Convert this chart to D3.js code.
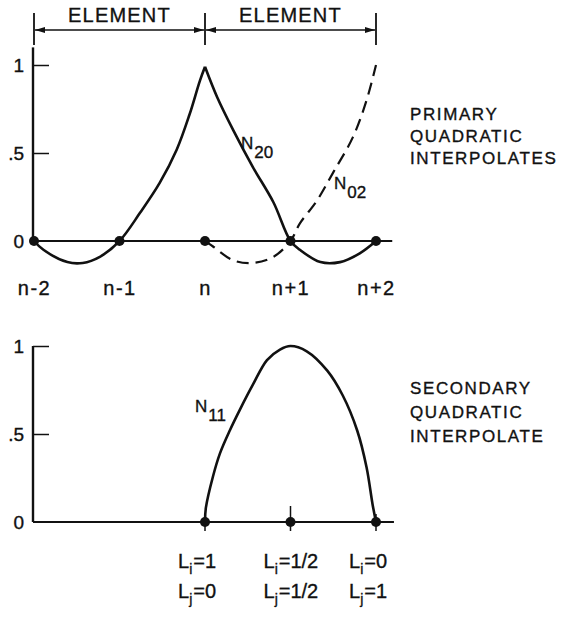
<!DOCTYPE html>
<html>
<head>
<meta charset="utf-8">
<script src="https://cdn.jsdelivr.net/npm/d3@7"></script>
<style>
  body { margin: 0; background: #fff; }
  svg { display: block; }
  text { font-family: "Liberation Sans", Arial, sans-serif; fill: #111; stroke: #111; stroke-width: 0.35px; }
</style>
</head>
<body>
<div class="graph"></div>
<script>
// node positions, n = 0
var nodePos = [-2, -1, 0, 1, 2];
var nodeLabels = ["n-2", "n-1", "n", "n+1", "n+2"];
var yTicks = [0, 0.5, 1];
var yTickLabels = ["0", ".5", "1"];

// element boundaries for the header arrows
var elementEdges = [-2, 0, 2];
var elementName = "ELEMENT";

// curves as [node position, value]
var n20Left = [[-2, 0], [-1.89, -0.05], [-1.61, -0.12], [-1.43, -0.125], [-1.23, -0.09], [-1, 0],
  [-0.76, 0.16], [-0.53, 0.33], [-0.33, 0.52], [-0.18, 0.72], [-0.06, 0.91], [0, 0.99]];
var n20Right = [[0, 0.99], [0.14, 0.82], [0.33, 0.63], [0.56, 0.42], [0.80, 0.22], [1, 0],
  [1.11, -0.05], [1.35, -0.12], [1.58, -0.12], [1.81, -0.07], [2, 0]];
var n02 = [[0, 0], [0.09, -0.03], [0.33, -0.11], [0.56, -0.125], [0.80, -0.09], [1, 0],
  [1.11, 0.10], [1.31, 0.23], [1.5, 0.39], [1.73, 0.59], [1.89, 0.80], [2, 1]];
var n11 = [[0, 0], [0.01, 0.08], [0.094, 0.26], [0.175, 0.39], [0.29, 0.52], [0.41, 0.64],
  [0.56, 0.78], [0.725, 0.92], [0.877, 0.98], [1, 1], [1.19, 0.97], [1.43, 0.86],
  [1.61, 0.72], [1.78, 0.52], [1.89, 0.31], [1.96, 0.1], [2, 0]];

// secondary nodes and their area coordinates
var secPos = [0, 1, 2];
var liLabels = ["1", "1/2", "0"];
var ljLabels = ["0", "1/2", "1"];

var topTitle = ["PRIMARY", "QUADRATIC", "INTERPOLATES"];
var botTitle = ["SECONDARY", "QUADRATIC", "INTERPOLATE"];

var width = 564, height = 620;

var svg = d3.select("div.graph").append("svg")
    .attr("width", width)
    .attr("height", height);

svg.append("defs").append("marker")
    .attr("id", "arrow")
    .attr("viewBox", "0 0 10 6")
    .attr("refX", 10).attr("refY", 3)
    .attr("markerWidth", 10).attr("markerHeight", 6)
    .attr("markerUnits", "userSpaceOnUse")
    .attr("orient", "auto-start-reverse")
  .append("path")
    .attr("d", "M0,0L10,3L0,6Z")
    .attr("fill", "#111");

var x = d3.scaleLinear().domain([-2, 2]).range([34, 376]);
var yTop = d3.scaleLinear().domain([0, 1]).range([241, 65]);
var yBot = d3.scaleLinear().domain([0, 1]).range([522, 346]);

// header: ELEMENT | ELEMENT
var head = svg.append("g");
head.selectAll("line.edge")
  .data(elementEdges)
  .enter().append("line")
    .attr("x1", d => x(d)).attr("x2", d => x(d))
    .attr("y1", 13).attr("y2", 45)
    .attr("stroke", "#111").attr("stroke-width", 1.8);

d3.pairs(elementEdges).forEach(function(p) {
  head.append("line")
      .attr("x1", x(p[0]) + 1).attr("x2", x(p[1]) - 1)
      .attr("y1", 30).attr("y2", 30)
      .attr("stroke", "#111").attr("stroke-width", 1.5)
      .attr("marker-start", "url(#arrow)")
      .attr("marker-end", "url(#arrow)");
  head.append("text")
      .attr("x", (x(p[0]) + x(p[1])) / 2)
      .attr("y", 22)
      .attr("text-anchor", "middle")
      .style("font-size", "20px")
      .style("letter-spacing", "1.2px")
      .text(elementName);
});

var line = d3.line()
    .x(d => x(d[0]))
    .curve(d3.curveCatmullRom.alpha(0.5));

// y axis, ticks pointing right
function drawYAxis(g, y, top) {
  g.append("line")
      .attr("x1", x(-2) - 1).attr("x2", x(-2) - 1)
      .attr("y1", y(0)).attr("y2", y(top))
      .attr("stroke", "#111").attr("stroke-width", 2.4);
  var ax = g.append("g")
      .attr("transform", "translate(" + (x(-2) - 1) + ",0)")
      .call(d3.axisLeft(y).tickValues(yTicks)
        .tickFormat((d, i) => yTickLabels[i])
        .tickSizeInner(-16).tickSizeOuter(0).tickPadding(9));
  ax.select(".domain").remove();
  ax.selectAll(".tick line").attr("stroke", "#111").attr("stroke-width", 1.5)
    .filter(d => d === 0).remove();
  ax.selectAll(".tick text")
      .attr("fill", "#111")
      .style("font-family", "'Liberation Sans', Arial, sans-serif")
      .style("font-size", "19px");
}

// PRIMARY ------------------------------------------------------------
var gTop = svg.append("g");
drawYAxis(gTop, yTop, 1.1);

gTop.append("line")
    .attr("x1", x(-2) - 1).attr("x2", x(2.19))
    .attr("y1", yTop(0)).attr("y2", yTop(0))
    .attr("stroke", "#111").attr("stroke-width", 2.2);

line.y(d => yTop(d[1]));
[n20Left, n20Right].forEach(function(seg) {
  gTop.append("path")
      .attr("d", line(seg))
      .attr("fill", "none")
      .attr("stroke", "#111")
      .attr("stroke-width", 2.6);
});
gTop.append("path")
    .attr("d", line(n02))
    .attr("fill", "none")
    .attr("stroke", "#111")
    .attr("stroke-width", 2.2)
    .attr("stroke-dasharray", "12,7");

gTop.selectAll("circle")
  .data(nodePos)
  .enter().append("circle")
    .attr("cx", d => x(d))
    .attr("cy", yTop(0))
    .attr("r", 5)
    .attr("fill", "#111");

var xAx = gTop.append("g")
    .attr("transform", "translate(0," + yTop(0) + ")")
    .call(d3.axisBottom(x).tickValues(nodePos)
      .tickFormat((d, i) => nodeLabels[i]).tickSize(0).tickPadding(40));
xAx.select(".domain").remove();
xAx.selectAll(".tick text")
    .attr("y", 54).attr("dy", null)
    .attr("fill", "#111")
    .style("font-family", "'Liberation Sans', Arial, sans-serif")
    .style("font-size", "20px")
    .style("letter-spacing", "1.5px");

// curve labels
function subLabel(g, px, py, main, sub) {
  var t = g.append("text").attr("x", px).attr("y", py).style("font-size", "17px");
  t.append("tspan").text(main);
  t.append("tspan").attr("dx", 1).attr("dy", 9).text(sub);
}
subLabel(gTop, 241, 149, "N", "20");
subLabel(gTop, 334, 189, "N", "02");

gTop.selectAll("text.title")
  .data(topTitle)
  .enter().append("text")
    .attr("class", "title")
    .attr("x", 410)
    .attr("y", (d, i) => 120 + i * 22)
    .style("font-size", "17px")
    .style("letter-spacing", "1.6px")
    .text(d => d);

// SECONDARY ----------------------------------------------------------
var gBot = svg.append("g");
drawYAxis(gBot, yBot, 1);

gBot.append("line")
    .attr("x1", x(-2) - 1).attr("x2", x(2.21))
    .attr("y1", yBot(0)).attr("y2", yBot(0))
    .attr("stroke", "#111").attr("stroke-width", 2.2);

line.y(d => yBot(d[1]));
gBot.append("path")
    .attr("d", line(n11))
    .attr("fill", "none")
    .attr("stroke", "#111")
    .attr("stroke-width", 2.6);

gBot.selectAll("line.node")
  .data(secPos)
  .enter().append("line")
    .attr("class", "node")
    .attr("x1", d => x(d)).attr("x2", d => x(d))
    .attr("y1", (d, i) => yBot(0) - (i === 1 ? 16 : 8))
    .attr("y2", yBot(0) + 9)
    .attr("stroke", "#111").attr("stroke-width", 1.5);

gBot.selectAll("circle")
  .data(secPos)
  .enter().append("circle")
    .attr("cx", d => x(d))
    .attr("cy", yBot(0))
    .attr("r", 5)
    .attr("fill", "#111");

subLabel(gBot, 195, 412, "N", "11");

function areaLabel(g, px, py, letter, val) {
  var t = g.append("text").attr("x", px).attr("y", py).style("font-size", "20px");
  t.append("tspan").text("L");
  t.append("tspan").attr("dy", 6).style("font-size", "14px").text(letter);
  t.append("tspan").attr("dy", -6).attr("dx", 1).text("=" + val);
}
secPos.forEach(function(d, i) {
  areaLabel(gBot, x(d) - 27, 568, "i", liLabels[i]);
  areaLabel(gBot, x(d) - 27, 598, "j", ljLabels[i]);
});

gBot.selectAll("text.title")
  .data(botTitle)
  .enter().append("text")
    .attr("class", "title")
    .attr("x", 410)
    .attr("y", (d, i) => 394 + i * 24)
    .style("font-size", "17px")
    .style("letter-spacing", "1.6px")
    .text(d => d);
</script>
</body>
</html>
